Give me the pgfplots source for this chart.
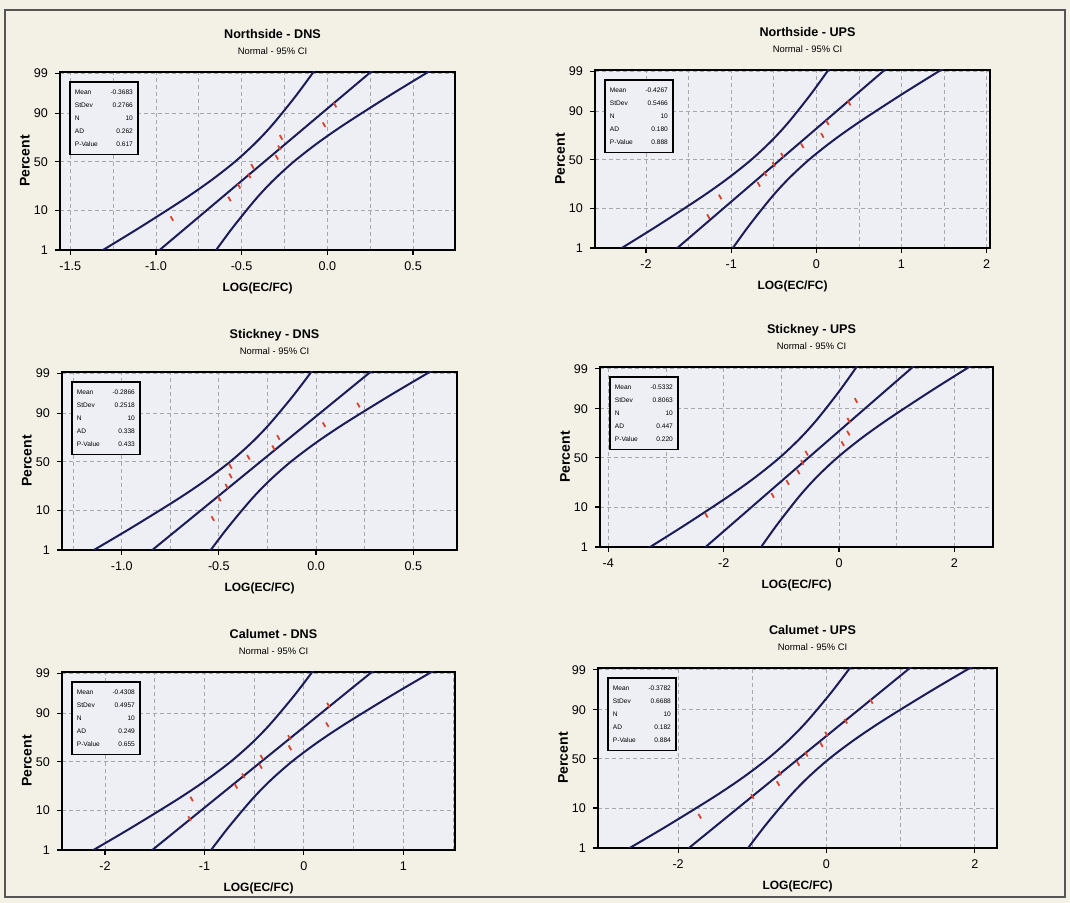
\documentclass[border=0pt]{standalone}
\usepackage{fontspec}
\setmainfont{Liberation Sans}
\usepackage{pgfplots}
\pgfplotsset{compat=1.18}
\definecolor{bgc}{HTML}{F3F1E6}
\definecolor{plotbg}{HTML}{EEEFF4}
\definecolor{curvec}{HTML}{1C1C5A}
\definecolor{ptred}{HTML}{D8432C}
\definecolor{gridc}{HTML}{A8A8A8}
\definecolor{framec}{HTML}{555555}

\pgfplotsset{
 npp/.style={
  scale only axis, anchor=north west,
  ymin=-2.3263, ymax=2.37,
  ytick={-2.3263,-1.2816,0,1.2816,2.3263},
  yticklabels={1,10,50,90,99},
  ymajorgrids, xmajorgrids, xminorgrids,
  grid style={gridc, dash pattern=on 2pt off 1.5pt, line width=0.4pt},
  minor grid style={gridc, dash pattern=on 2pt off 1.5pt, line width=0.4pt},
  minor tick length=0pt,
  major tick length=2.5pt,
  tick align=outside,
  tick pos=left,
  tick style={black, line width=0.6pt},
  axis line style={line width=1.1pt},
  axis background/.style={fill=plotbg},
  ticklabel style={font=\fontsize{6.3}{7}\selectfont},
  clip mode=individual,
 },
 ci/.style={curvec, line width=1pt, smooth},
 fitl/.style={curvec, line width=1pt},
 pts/.style={only marks, mark=|, mark size=1.3pt, ptred, mark options={rotate=30, line width=0.9pt}},
}

\newcommand{\paneltext}[1]{%
 \node[anchor=base, font=\fontsize{6.3}{7}\selectfont\bfseries, xshift=7.5pt, yshift=16.5pt] at (rel axis cs:0.5,1) {#1};
 \node[anchor=base, font=\fontsize{4.7}{5}\selectfont, xshift=7.5pt, yshift=8.8pt] at (rel axis cs:0.5,1) {Normal - 95\% CI};
 \node[font=\fontsize{6}{7}\selectfont\bfseries, yshift=-19pt] at (rel axis cs:0.5,0) {LOG(EC/FC)};
 \node[rotate=90, font=\fontsize{7}{8}\selectfont\bfseries, yshift=17.5pt] at (rel axis cs:0,0.5) {Percent};
}
\newcommand{\statbox}[4]{%
 \node[draw=black, line width=0.9pt, fill=plotbg, anchor=north west, inner xsep=2.5pt, inner ysep=4pt, align=left, font=\fontsize{3.3}{6.5}\selectfont, xshift=4.5pt, yshift=-4.5pt] at (rel axis cs:0,1)
 {\makebox[16pt][l]{Mean}\makebox[13pt][r]{#1}\\ \makebox[16pt][l]{StDev}\makebox[13pt][r]{#2}\\ \makebox[16pt][l]{N}\makebox[13pt][r]{10}\\ \makebox[16pt][l]{AD}\makebox[13pt][r]{#3}\\ \makebox[16pt][l]{P-Value}\makebox[13pt][r]{#4}};
}

\begin{document}
\begin{tikzpicture}
\fill[bgc] (0,0) rectangle (535pt,451.5pt);
\draw[framec, line width=0.8pt] (2.5pt,3pt) rectangle (532.5pt,446.5pt);

% Northside - DNS
\begin{axis}[npp, at={(30pt,415.5pt)}, width=197.5pt, height=89pt,
  xmin=-1.56, xmax=0.745, xtick={-1.5,-1,-0.5,0,0.5}, xticklabels={-1.5,-1.0,-0.5,0.0,0.5},
  minor xtick={-1.25,-0.75,-0.25,0.25}]
\addplot[ci] coordinates {(-1.3358,-2.4) (-1.1003,-1.75) (-0.8407,-1) (-0.6813,-0.5) (-0.5397,0) (-0.4189,0.5) (-0.3159,1) (-0.1819,1.75) (-0.0683,2.45)};
\addplot[ci] coordinates {(-0.6604,-2.4) (-0.5547,-1.75) (-0.4207,-1) (-0.3177,-0.5) (-0.1969,0) (-0.0553,0.5) (0.1041,1) (0.3637,1.75) (0.6175,2.45)};
\addplot[fitl] coordinates {(-0.9981,-2.4) (0.2746,2.45)};
\addplot[pts] coordinates {(-0.907,-1.497) (-0.571,-0.980) (-0.515,-0.644) (-0.455,-0.370) (-0.437,-0.1207) (-0.295,0.1207) (-0.28,0.370) (-0.27,0.644) (-0.019,0.980) (0.045,1.497)};
\statbox{-0.3683}{0.2766}{0.262}{0.617}
\paneltext{Northside - DNS}
\end{axis}

% Northside - UPS
\begin{axis}[npp, at={(297.5pt,416.5pt)}, width=197.5pt, height=89pt,
  xmin=-2.60, xmax=2.04, xtick={-2,-1,0,1,2}, xticklabels={-2,-1,0,1,2},
  minor xtick={-1.5,-0.5,0.5,1.5}]
\addplot[ci] coordinates {(-2.3384,-2.4) (-1.8731,-1.75) (-1.3601,-1) (-1.0453,-0.5) (-0.7655,0) (-0.5267,0.5) (-0.3231,1) (-0.0583,1.75) (0.1659,2.45)};
\addplot[ci] coordinates {(-1.0038,-2.4) (-0.7951,-1.75) (-0.5303,-1) (-0.3267,-0.5) (-0.0879,0) (0.1919,0.5) (0.5067,1) (1.0197,1.75) (1.5213,2.45)};
\addplot[fitl] coordinates {(-1.6711,-2.4) (0.8436,2.45)};
\addplot[pts] coordinates {(-1.268,-1.497) (-1.130,-0.980) (-0.677,-0.644) (-0.60,-0.370) (-0.50,-0.1207) (-0.40,0.1207) (-0.165,0.370) (0.071,0.644) (0.13,0.980) (0.386,1.497)};
\statbox{-0.4267}{0.5466}{0.180}{0.888}
\paneltext{Northside - UPS}
\end{axis}

% Stickney - DNS
\begin{axis}[npp, at={(31pt,265.5pt)}, width=197.5pt, height=89pt,
  xmin=-1.307, xmax=0.725, xtick={-1,-0.5,0,0.5}, xticklabels={-1.0,-0.5,0.0,0.5},
  minor xtick={-1.25,-0.75,-0.25,0.25}]
\addplot[ci] coordinates {(-1.1674,-2.4) (-0.9530,-1.75) (-0.7166,-1) (-0.5716,-0.5) (-0.4427,0) (-0.3326,0.5) (-0.2388,1) (-0.1168,1.75) (-0.0135,2.45)};
\addplot[ci] coordinates {(-0.5526,-2.4) (-0.4564,-1.75) (-0.3344,-1) (-0.2406,-0.5) (-0.1305,0) (-0.0016,0.5) (0.1434,1) (0.3798,1.75) (0.6109,2.45)};
\addplot[fitl] coordinates {(-0.8600,-2.4) (0.2987,2.45)};
\addplot[pts] coordinates {(-0.531,-1.497) (-0.497,-0.980) (-0.46,-0.644) (-0.44,-0.370) (-0.44,-0.1207) (-0.348,0.1207) (-0.219,0.370) (-0.194,0.644) (0.041,0.980) (0.218,1.497)};
\statbox{-0.2866}{0.2518}{0.338}{0.433}
\paneltext{Stickney - DNS}
\end{axis}

% Stickney - UPS
\begin{axis}[npp, at={(300pt,268pt)}, width=196.5pt, height=90pt,
  xmin=-4.144, xmax=2.67, xtick={-4,-2,0,2}, xticklabels={-4,-2,0,2},
  minor xtick={-3,-1,1}]
\addplot[ci] coordinates {(-3.3534,-2.4) (-2.6669,-1.75) (-1.9102,-1) (-1.4458,-0.5) (-1.0329,0) (-0.6808,0.5) (-0.3804,1) (0.0103,1.75) (0.3411,2.45)};
\addplot[ci] coordinates {(-1.3846,-2.4) (-1.0767,-1.75) (-0.6860,-1) (-0.3856,-0.5) (-0.0335,0) (0.3794,0.5) (0.8438,1) (1.6005,1.75) (2.3405,2.45)};
\addplot[fitl] coordinates {(-2.3690,-2.4) (1.3408,2.45)};
\addplot[pts] coordinates {(-2.30,-1.497) (-1.15,-0.980) (-0.89,-0.644) (-0.705,-0.370) (-0.636,-0.1207) (-0.561,0.1207) (0.064,0.370) (0.162,0.644) (0.168,0.980) (0.295,1.497)};
\statbox{-0.5332}{0.8063}{0.447}{0.220}
\paneltext{Stickney - UPS}
\end{axis}

% Calumet - DNS
\begin{axis}[npp, at={(31pt,115.5pt)}, width=196.5pt, height=89pt,
  xmin=-2.433, xmax=1.52, xtick={-2,-1,0,1}, xticklabels={-2,-1,0,1},
  minor xtick={-1.5,-0.5,0.5,1.5}]
\addplot[ci] coordinates {(-2.1647,-2.4) (-1.7426,-1.75) (-1.2774,-1) (-0.9919,-0.5) (-0.7380,0) (-0.5215,0.5) (-0.3368,1) (-0.0966,1.75) (0.1068,2.45)};
\addplot[ci] coordinates {(-0.9543,-2.4) (-0.7650,-1.75) (-0.5248,-1) (-0.3401,-0.5) (-0.1236,0) (0.1303,0.5) (0.4158,1) (0.8810,1.75) (1.3360,2.45)};
\addplot[fitl] coordinates {(-1.5595,-2.4) (0.7214,2.45)};
\addplot[pts] coordinates {(-1.15,-1.497) (-1.129,-0.980) (-0.683,-0.644) (-0.609,-0.370) (-0.435,-0.1207) (-0.424,0.1207) (-0.14,0.370) (-0.146,0.644) (0.236,0.980) (0.246,1.497)};
\statbox{-0.4308}{0.4957}{0.249}{0.655}
\paneltext{Calumet - DNS}
\end{axis}

% Calumet - UPS
\begin{axis}[npp, at={(299pt,117.5pt)}, width=199.5pt, height=90pt,
  xmin=-3.08, xmax=2.30, xtick={-2,0,2}, xticklabels={-2,0,2},
  minor xtick={-1,1}]
\addplot[ci] coordinates {(-2.7175,-2.4) (-2.1481,-1.75) (-1.5204,-1) (-1.1352,-0.5) (-0.7927,0) (-0.5006,0.5) (-0.2514,1) (0.0727,1.75) (0.3471,2.45)};
\addplot[ci] coordinates {(-1.0845,-2.4) (-0.8291,-1.75) (-0.5050,-1) (-0.2558,-0.5) (0.0363,0) (0.3788,0.5) (0.7640,1) (1.3917,1.75) (2.0055,2.45)};
\addplot[fitl] coordinates {(-1.9010,-2.4) (1.1763,2.45)};
\addplot[pts] coordinates {(-1.708,-1.497) (-0.998,-0.980) (-0.652,-0.644) (-0.629,-0.370) (-0.382,-0.1207) (-0.27,0.1207) (-0.067,0.370) (0,0.644) (0.261,0.980) (0.607,1.497)};
\statbox{-0.3782}{0.6688}{0.182}{0.884}
\paneltext{Calumet - UPS}
\end{axis}
\end{tikzpicture}
\end{document}
